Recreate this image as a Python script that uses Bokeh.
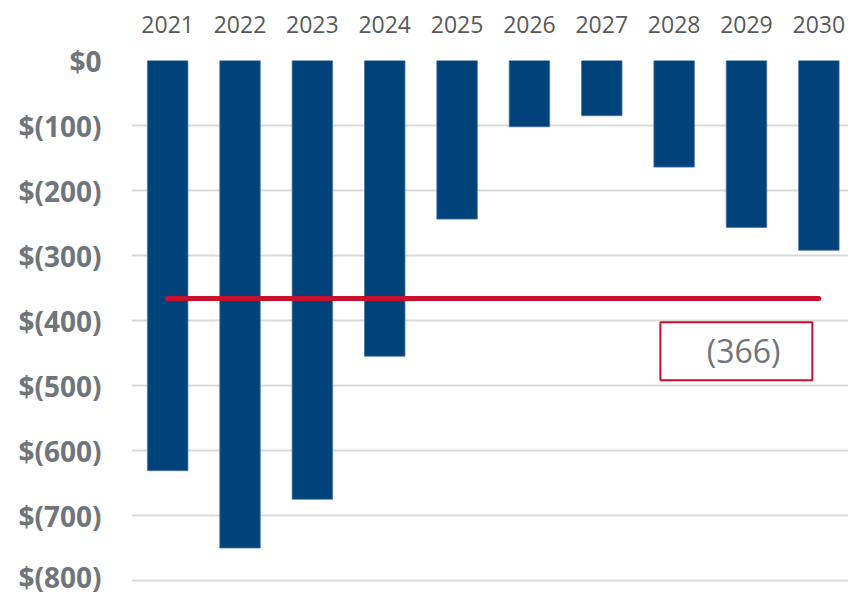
from bokeh.plotting import figure
from bokeh.models import Range1d, FixedTicker, CustomJSTickFormatter, BoxAnnotation, Label, ColumnDataSource
from bokeh.embed import file_html
from bokeh.resources import INLINE

years = [2021, 2022, 2023, 2024, 2025, 2026, 2027, 2028, 2029, 2030]
values = [-631, -750, -675, -455, -244, -102, -85, -164, -257, -292]
average = -366
y_ticks = [0, -100, -200, -300, -400, -500, -600, -700, -800]

BLUE = "#00427A"
RED = "#C8102E"
GRAY = "#70757a"

p = figure(width=848, height=595, output_backend="svg", toolbar_location=None,
           x_axis_location="above",
           x_range=Range1d(2020.5, 2030.41), y_range=Range1d(-823, 0),
           min_border_left=131, min_border_top=60, min_border_right=0, min_border_bottom=0)
p.outline_line_color = None
p.background_fill_color = "white"
p.border_fill_color = "white"

src = ColumnDataSource(dict(x=years, top=[0] * len(years), bottom=values))
p.vbar(x="x", top="top", bottom="bottom", width=0.56, source=src,
       fill_color=BLUE, line_color="#4f78a3", line_width=0.8)

p.line(x=[years[0], years[-1]], y=[average, average], line_color=RED, line_width=5, line_cap="round")

box = BoxAnnotation(left=2027.81, right=2029.91, top=-402.6, bottom=-492,
                    fill_alpha=0, line_color=RED, line_alpha=1.0, line_width=2)
p.add_layout(box)
lbl = Label(x=2028.96, y=-446, text=f"({abs(average)})", text_align="center", text_baseline="middle",
            text_font="Open Sans", text_font_size="32px", text_color=GRAY)
p.add_layout(lbl)

# x axis (above)
p.xaxis.ticker = FixedTicker(ticks=years)
p.xaxis.axis_line_color = None
p.xaxis.major_tick_line_color = None
p.xaxis.minor_tick_line_color = None
p.xaxis.major_tick_out = 0
p.xaxis.major_label_standoff = 28
p.xaxis.major_label_text_font = "Open Sans"
p.xaxis.major_label_text_font_size = "23px"
p.xaxis.major_label_text_color = "#595959"
p.xgrid.grid_line_color = None

# y axis
p.yaxis.ticker = FixedTicker(ticks=y_ticks)
p.yaxis.formatter = CustomJSTickFormatter(code="return tick == 0 ? '$0' : '$(' + Math.abs(tick) + ')';")
p.yaxis.axis_line_color = None
p.yaxis.major_tick_line_color = None
p.yaxis.minor_tick_line_color = None
p.yaxis.major_tick_out = 0
p.yaxis.major_label_standoff = 30
p.yaxis.major_label_text_font = "Open Sans"
p.yaxis.major_label_text_font_style = "bold"
p.yaxis.major_label_text_font_size = "28px"
p.yaxis.major_label_text_color = GRAY
p.ygrid.ticker = FixedTicker(ticks=y_ticks)
p.ygrid.grid_line_color = "#d9d9d9"
p.ygrid.grid_line_width = 2

open("out.html", "w").write(file_html(p, INLINE))
